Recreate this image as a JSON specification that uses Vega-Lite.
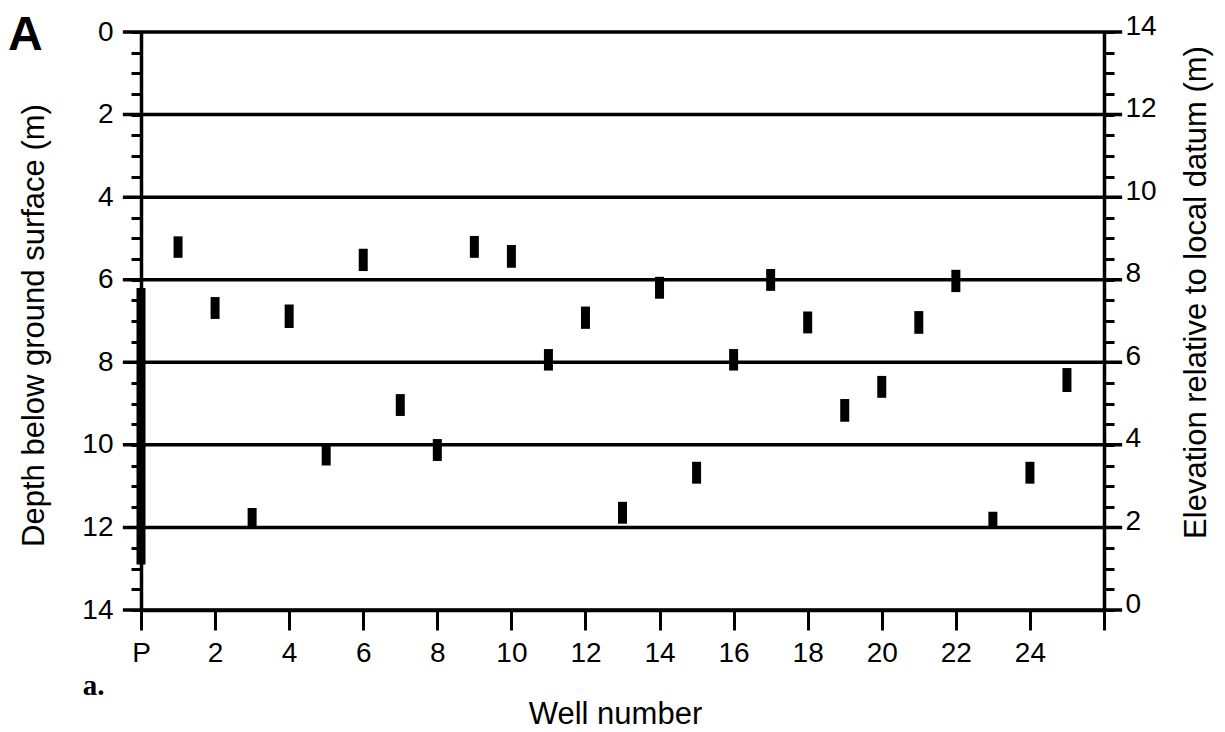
{
  "$schema": "https://vega.github.io/schema/vega-lite/v6.json",
  "width": 963,
  "height": 578,
  "autosize": {"type": "none"},
  "padding": {"left": 141, "top": 32, "right": 121, "bottom": 122},
  "background": "white",
  "config": {
    "view": {"stroke": null},
    "axis": {
      "domainColor": "black",
      "domainWidth": 3.5,
      "tickColor": "black",
      "tickWidth": 3,
      "labelColor": "black",
      "labelFont": "Liberation Sans",
      "labelFontSize": 28,
      "titleColor": "black",
      "titleFont": "Liberation Sans",
      "titleFontSize": 31,
      "titleFontWeight": "normal",
      "labelOverlap": false,
      "labelFlush": false,
      "grid": false
    }
  },
  "resolve": {"axis": {"y": "independent"}},
  "layer": [
    {
      "data": {"values": [
        {"depth": 0}, {"depth": 2}, {"depth": 4}, {"depth": 6},
        {"depth": 8}, {"depth": 10}, {"depth": 12}, {"depth": 14}
      ]},
      "mark": {"type": "rule", "color": "black", "strokeWidth": 3.5},
      "encoding": {
        "x": {
          "datum": -0.49,
          "type": "quantitative",
          "scale": {"domain": [0, 26], "nice": false, "zero": false, "padding": 0},
          "axis": {
            "orient": "bottom",
            "values": [0,1,2,3,4,5,6,7,8,9,10,11,12,13,14,15,16,17,18,19,20,21,22,23,24,25,26],
            "labelExpr": "datum.value === 0 ? 'P' : (datum.value % 2 === 0 && datum.value < 26 ? '' + datum.value : '')",
            "tickSize": 20,
            "labelPadding": 9,
            "title": "Well number",
            "titleX": 474,
            "titleY": 113,
            "titleAlign": "center",
            "titleBaseline": "alphabetic"
          }
        },
        "x2": {"datum": 26.49},
        "y": {
          "field": "depth",
          "type": "quantitative",
          "scale": {"domain": [0, 14], "reverse": true, "nice": false, "zero": false, "padding": 0},
          "axis": {
            "orient": "left",
            "values": [0,0.5,1,1.5,2,2.5,3,3.5,4,4.5,5,5.5,6,6.5,7,7.5,8,8.5,9,9.5,10,10.5,11,11.5,12,12.5,13,13.5,14],
            "labelExpr": "datum.value % 2 === 0 ? '' + datum.value : ''",
            "tickSize": 10,
            "labelPadding": 18,
            "labelBaseline": "middle",
            "title": "Depth below ground surface (m)",
            "titleAngle": -90,
            "titleX": -98,
            "titleY": 293,
            "titleAlign": "center",
            "titleBaseline": "alphabetic"
          }
        }
      }
    },
    {
      "data": {"values": [
        {"well": 0, "top": 6.2, "bottom": 12.9},
        {"well": 1, "top": 4.95, "bottom": 5.47},
        {"well": 2, "top": 6.42, "bottom": 6.95},
        {"well": 3, "top": 11.53, "bottom": 11.99},
        {"well": 4, "top": 6.6, "bottom": 7.17},
        {"well": 5, "top": 10.0, "bottom": 10.5},
        {"well": 6, "top": 5.25, "bottom": 5.79},
        {"well": 7, "top": 8.77, "bottom": 9.3},
        {"well": 8, "top": 9.86, "bottom": 10.39},
        {"well": 9, "top": 4.94, "bottom": 5.47},
        {"well": 10, "top": 5.16, "bottom": 5.71},
        {"well": 11, "top": 7.68, "bottom": 8.2},
        {"well": 12, "top": 6.65, "bottom": 7.19},
        {"well": 13, "top": 11.38, "bottom": 11.91},
        {"well": 14, "top": 5.93, "bottom": 6.46},
        {"well": 15, "top": 10.41, "bottom": 10.94},
        {"well": 16, "top": 7.68, "bottom": 8.2},
        {"well": 17, "top": 5.74, "bottom": 6.27},
        {"well": 18, "top": 6.77, "bottom": 7.3},
        {"well": 19, "top": 8.89, "bottom": 9.44},
        {"well": 20, "top": 8.33, "bottom": 8.86},
        {"well": 21, "top": 6.76, "bottom": 7.31},
        {"well": 22, "top": 5.76, "bottom": 6.3},
        {"well": 23, "top": 11.62, "bottom": 12.0},
        {"well": 24, "top": 10.41, "bottom": 10.94},
        {"well": 25, "top": 8.14, "bottom": 8.72}
      ]},
      "mark": {"type": "bar", "color": "black", "width": 9, "orient": "vertical"},
      "encoding": {
        "x": {
          "field": "well",
          "type": "quantitative",
          "scale": {"domain": [0, 26], "nice": false, "zero": false, "padding": 0},
          "axis": {
            "orient": "bottom",
            "values": [0,1,2,3,4,5,6,7,8,9,10,11,12,13,14,15,16,17,18,19,20,21,22,23,24,25,26],
            "labelExpr": "datum.value === 0 ? 'P' : (datum.value % 2 === 0 && datum.value < 26 ? '' + datum.value : '')",
            "tickSize": 20,
            "labelPadding": 9,
            "title": "Well number",
            "titleX": 474,
            "titleY": 113,
            "titleAlign": "center",
            "titleBaseline": "alphabetic"
          }
        },
        "y": {
          "field": "top",
          "type": "quantitative",
          "scale": {"domain": [0, 14], "reverse": true, "nice": false, "zero": false, "padding": 0},
          "axis": {
            "orient": "right",
            "values": [0,0.5,1,1.5,2,2.5,3,3.5,4,4.5,5,5.5,6,6.5,7,7.5,8,8.5,9,9.5,10,10.5,11,11.5,12,12.5,13,13.5,14],
            "labelExpr": "datum.value % 2 === 0 ? '' + (14 - datum.value) : ''",
            "tickSize": 10,
            "labelPadding": 11,
            "labelBaseline": "middle",
            "labelOffset": -6,
            "title": "Elevation relative to local datum (m)",
            "titleAngle": -90,
            "titleX": 101,
            "titleY": 260,
            "titleAlign": "center",
            "titleBaseline": "alphabetic"
          }
        },
        "y2": {"field": "bottom"}
      }
    },
    {
      "data": {"values": [{"note": "a."}]},
      "mark": {"type": "text", "font": "Liberation Serif", "fontSize": 29, "fontWeight": "bold", "color": "black", "align": "left", "baseline": "alphabetic"},
      "encoding": {
        "text": {"field": "note"},
        "x": {"datum": -1.57, "type": "quantitative"},
        "y": {"datum": 16.06, "type": "quantitative", "axis": null}
      }
    },
    {
      "data": {"values": [{"panel": "A"}]},
      "mark": {"type": "text", "font": "Liberation Sans", "fontSize": 48, "fontWeight": "bold", "color": "black", "align": "left", "baseline": "alphabetic"},
      "encoding": {
        "text": {"field": "panel"},
        "x": {"datum": -3.59, "type": "quantitative"},
        "y": {"datum": 0.436, "type": "quantitative", "axis": null}
      }
    }
  ]
}
